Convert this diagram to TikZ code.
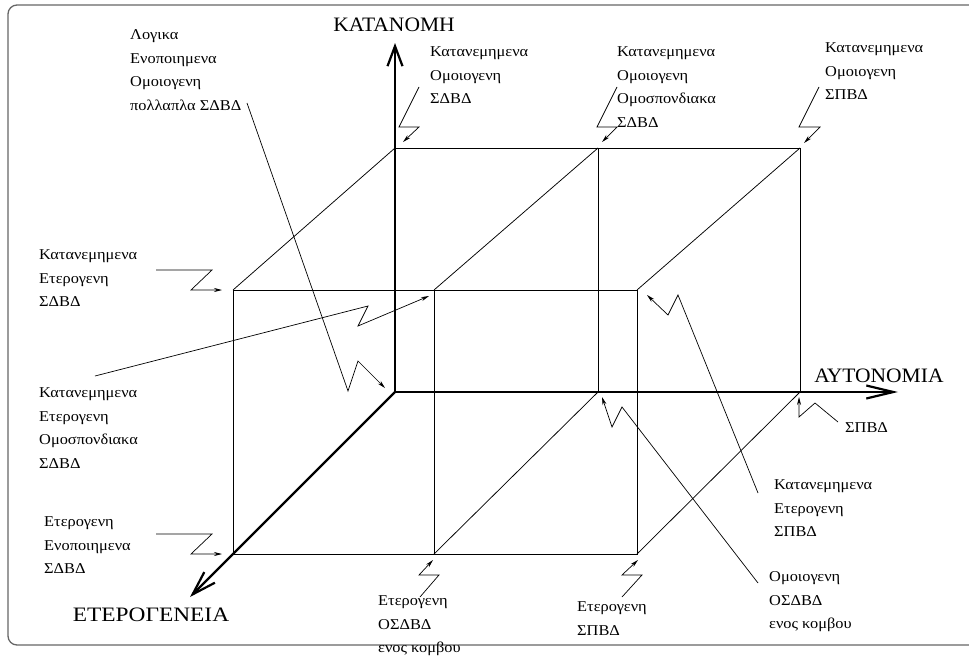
\documentclass[tikz,border=0pt]{standalone}
\usepackage{fontspec}
\setmainfont{Liberation Serif}
\newfontfamily\lblfont[FakeStretch=1.09]{Liberation Serif}
\newfontfamily\axfont[FakeStretch=1.05]{Liberation Serif}
\newfontfamily\axwidefont[FakeStretch=1.14]{Liberation Serif}
\usetikzlibrary{arrows.meta}

\begin{document}
\begin{tikzpicture}[x=1pt,y=-1pt,
  edge/.style={line width=0.75pt},
  axisline/.style={line width=2.2pt},
  conn/.style={line width=0.7pt, -{Stealth[length=8pt,width=4pt]}},
  lbl/.style={anchor=north west, inner sep=0pt, align=left,
    font=\lblfont\fontsize{15}{23.5}\selectfont},
  axislbl/.style={anchor=base, inner sep=0pt, font=\axfont\fontsize{20.5}{24}\selectfont}]
\useasboundingbox (0,0) rectangle (969,656);

% frame
\draw[black!60, line width=1.3pt, rounded corners=9pt] (8,5) rectangle (1000,645);

% cube corners
\coordinate (O)   at (395,392);
\coordinate (BTL) at (395,148);
\coordinate (BTM) at (598,148);
\coordinate (BTR) at (800,148);
\coordinate (BBM) at (598,392);
\coordinate (BBR) at (800,392);
\coordinate (FTL) at (233,290);
\coordinate (FTM) at (434,290);
\coordinate (FTR) at (637,290);
\coordinate (FBL) at (233,554);
\coordinate (FBM) at (434,554);
\coordinate (FBR) at (637,554);
\coordinate (KT)  at (395,43);
\coordinate (AT)  at (898,392);
\coordinate (ET)  at (190,597);

% cube edges
\draw[edge] (BTL) -- (BTR) -- (BBR);
\draw[edge] (BTM) -- (BBM);
\draw[edge] (FTL) rectangle (FBR);
\draw[edge] (FTM) -- (FBM);
\draw[edge] (BTL) -- (FTL);
\draw[edge] (BTM) -- (FTM);
\draw[edge] (BTR) -- (FTR);
\draw[edge] (BBM) -- (FBM);
\draw[edge] (BBR) -- (FBR);

% axes
\draw[axisline, -{Straight Barb[length=20pt,width=15pt]}] (O) -- (KT);
\draw[axisline, -{Straight Barb[length=27pt,width=13pt]}] (O) -- (AT);
\draw[axisline, -{Straight Barb[length=24pt,width=15pt]}] (O) -- (ET);

\node[axislbl] (kat) at (394,31) {ΚΑΤΑΝΟΜΗ};
\node[axislbl] (aut) at (879,382) {ΑΥΤΟΝΟΜΙΑ};
\node[axislbl, font=\axwidefont\fontsize{20.5}{24}\selectfont] (ete) at (151,621) {ΕΤΕΡΟΓΕΝΕΙΑ};

% labels (north west corner = top of first line)
\node[lbl] (l1) at (130,29.5) {Λογικα\\Ενοποιημενα\\Ομοιογενη\\πολλαπλα ΣΔΒΔ};
\node[lbl] (l2) at (430,46.5) {Κατανεμημενα\\Ομοιογενη\\ΣΔΒΔ};
\node[lbl] (l3) at (617,46.5) {Κατανεμημενα\\Ομοιογενη\\Ομοσπονδιακα\\ΣΔΒΔ};
\node[lbl] (l4) at (825,42.5) {Κατανεμημενα\\Ομοιογενη\\ΣΠΒΔ};
\node[lbl] (l5) at (39,249.5) {Κατανεμημενα\\Ετερογενη\\ΣΔΒΔ};
\node[lbl] (l6) at (39,387.5) {Κατανεμημενα\\Ετερογενη\\Ομοσπονδιακα\\ΣΔΒΔ};
\node[lbl] (l7) at (44,516.5) {Ετερογενη\\Ενοποιημενα\\ΣΔΒΔ};
\node[lbl] (l8) at (378,595.5) {Ετερογενη\\ΟΣΔΒΔ\\ενος κομβου};
\node[lbl] (l9) at (577,601.5) {Ετερογενη\\ΣΠΒΔ};
\node[lbl] (l10) at (845,422.5) {ΣΠΒΔ};
\node[lbl] (l11) at (774,479.5) {Κατανεμημενα\\Ετερογενη\\ΣΠΒΔ};
\node[lbl] (l12) at (769,571.5) {Ομοιογενη\\ΟΣΔΒΔ\\ενος κομβου};

% connector ends
\coordinate (s1) at (247,103);  \coordinate (t1) at (385,388);
\coordinate (s2) at (419,87);   \coordinate (t2) at (403,142);
\coordinate (s3) at (617,87);   \coordinate (t3) at (602,142);
\coordinate (s4) at (819,87);   \coordinate (t4) at (804,143);
\coordinate (s5) at (156,270);  \coordinate (t5) at (222,290);
\coordinate (s6) at (95,376);   \coordinate (t6) at (429,296);
\coordinate (s7) at (156,534);  \coordinate (t7) at (222,554);
\coordinate (s8) at (420,597);  \coordinate (t8) at (433,560);
\coordinate (s9) at (622,597);  \coordinate (t9) at (638,560);
\coordinate (s10) at (838,422); \coordinate (t10) at (799,397);
\coordinate (s11) at (758,493); \coordinate (t11) at (647,295);
\coordinate (s12) at (758,583); \coordinate (t12) at (602,397);

% zigzag connectors
\draw[conn] (s1) -- (348,391) -- (358,361) -- (t1);
\draw[conn] (s2) -- (399,127) -- (419,127) -- (t2);
\draw[conn] (s3) -- (597,127) -- (617,127) -- (t3);
\draw[conn] (s4) -- (799,127) -- (820,127) -- (t4);
\draw[conn] (s5) -- (212,270) -- (191,290) -- (t5);
\draw[conn] (s6) -- (368,306) -- (358,326) -- (t6);
\draw[conn] (s7) -- (212,534) -- (191,554) -- (t7);
\draw[conn] (s8) -- (439,575) -- (419,575) -- (t8);
\draw[conn] (s9) -- (642,575) -- (622,575) -- (t9);
\draw[conn] (s10) -- (815,403) -- (799,417) -- (t10);
\draw[conn] (s11) -- (678,295) -- (668,315) -- (t11);
\draw[conn] (s12) -- (622,407) -- (612,427) -- (t12);
\end{tikzpicture}
\end{document}
